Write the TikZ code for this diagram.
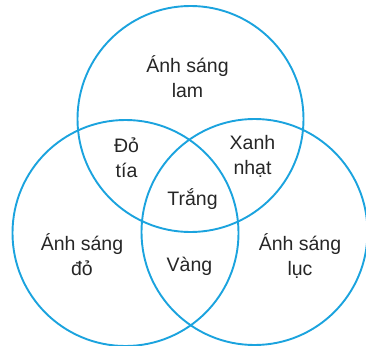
\documentclass[tikz,border=0pt]{standalone}
\usepackage{fontspec}
\setmainfont{Liberation Sans}
\usepackage{tikz}
\usetikzlibrary{positioning}
\definecolor{C_RING}{HTML}{1BA3DE}

\begin{document}
\begin{tikzpicture}[
  x=1pt, y=-1pt,
  ring/.style={draw=C_RING, line width=1.9pt, circle, minimum size=226pt, inner sep=0pt},
  label/.style={font=\fontsize{19.5}{25}\selectfont, align=center, text=black!85},
]
\useasboundingbox (0,0) rectangle (366,345);

%% Circles
\node[ring] (lam) at (190.5,119) {};
\node[ring] (do)  at (125.5,233) {};
\node[ring] (luc) at (254.5,232) {};

%% Single colours
\node[label] (tlam) at (187.5,77)  {Ánh sáng\\lam};
\node[label] (tdo)  at (82,255)    {Ánh sáng\\đỏ};
\node[label] (tluc) at (300,256)   {Ánh sáng\\lục};

%% Mixed colours
\node[label] (ttia)   at (126.5,158) {Đỏ\\tía};
\node[label] (txanh)  at (252.5,156) {Xanh\\nhạt};
\node[label] (tvang)  at (189.5,266) {Vàng};
\node[label] (ttrang) at (192.5,199) {Trắng};

\end{tikzpicture}
\end{document}
